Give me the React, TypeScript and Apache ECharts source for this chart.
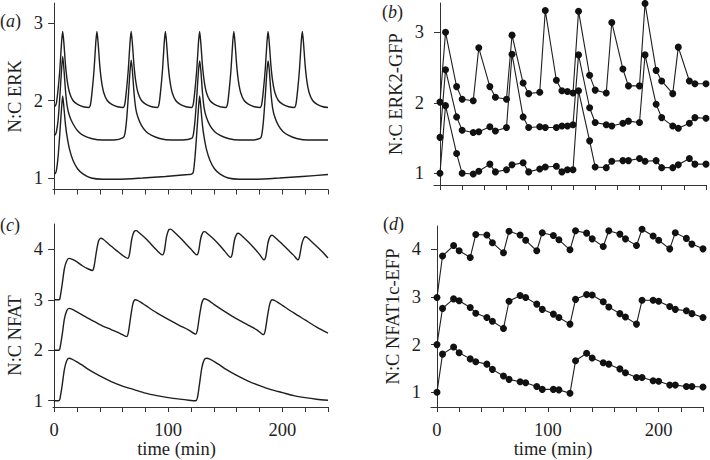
import React, { useEffect, useRef } from "react";
import * as echarts from "echarts";

// ---------- (a) simulated N:C ERK: [time (min), ratio] ----------
const erkSimHigh: number[][] = [
  [0, 1.92], [1, 1.93], [2, 1.97], [3.5, 2.15], [5, 2.4], [6.5, 2.75], [7.5, 2.89], [8.5, 2.75], [10, 2.45], [11.5, 2.25], [13.5, 2.1], [16.5, 2.0], [20.5, 1.95], [25.5, 1.92], [30.5, 1.91],
  [32, 1.96], [33.5, 2.15], [35, 2.4], [36.5, 2.75], [37.5, 2.89], [38.5, 2.75], [40, 2.45], [41.5, 2.25], [43.5, 2.1], [46.5, 2.0], [50.5, 1.95], [55.5, 1.92], [60.5, 1.91],
  [62, 1.96], [63.5, 2.15], [65, 2.4], [66.5, 2.75], [67.5, 2.89], [68.5, 2.75], [70, 2.45], [71.5, 2.25], [73.5, 2.1], [76.5, 2.0], [80.5, 1.95], [85.5, 1.92], [90.5, 1.91],
  [92, 1.96], [93.5, 2.15], [95, 2.4], [96.5, 2.75], [97.5, 2.89], [98.5, 2.75], [100, 2.45], [101.5, 2.25], [103.5, 2.1], [106.5, 2.0], [110.5, 1.95], [115.5, 1.92], [120.5, 1.91],
  [122, 1.96], [123.5, 2.15], [125, 2.4], [126.5, 2.75], [127.5, 2.89], [128.5, 2.75], [130, 2.45], [131.5, 2.25], [133.5, 2.1], [136.5, 2.0], [140.5, 1.95], [145.5, 1.92], [150.5, 1.91],
  [152, 1.96], [153.5, 2.15], [155, 2.4], [156.5, 2.75], [157.5, 2.89], [158.5, 2.75], [160, 2.45], [161.5, 2.25], [163.5, 2.1], [166.5, 2.0], [170.5, 1.95], [175.5, 1.92], [180.5, 1.91],
  [182, 1.96], [183.5, 2.15], [185, 2.4], [186.5, 2.75], [187.5, 2.89], [188.5, 2.75], [190, 2.45], [191.5, 2.25], [193.5, 2.1], [196.5, 2.0], [200.5, 1.95], [205.5, 1.92], [210.5, 1.91],
  [212, 1.96], [213.5, 2.15], [215, 2.4], [216.5, 2.75], [217.5, 2.89], [218.5, 2.75], [220, 2.45], [221.5, 2.25], [223.5, 2.1], [226.5, 2.0], [230.5, 1.95], [235.5, 1.92], [240, 1.91],
];
const erkSimMid: number[][] = [
  [0, 1.55], [1, 1.56], [2, 1.6], [3.5, 1.75], [5, 2.05], [6.5, 2.4], [7.5, 2.57], [8.5, 2.42], [10, 2.12], [11.5, 1.92], [13.5, 1.8], [16.5, 1.7], [20.5, 1.61], [25.5, 1.55], [32.5, 1.51], [42.5, 1.49], [52.5, 1.49], [60.5, 1.52],
  [62, 1.57], [63.5, 1.75], [65, 2.05], [66.5, 2.38], [67.5, 2.52], [68.5, 2.4], [70, 2.1], [71.5, 1.9], [73.5, 1.78], [76.5, 1.68], [80.5, 1.6], [85.5, 1.55], [92.5, 1.51], [102.5, 1.49], [112.5, 1.49], [120.5, 1.51],
  [122, 1.56], [123.5, 1.75], [125, 2.05], [126.5, 2.38], [127.5, 2.51], [128.5, 2.4], [130, 2.1], [131.5, 1.9], [133.5, 1.78], [136.5, 1.68], [140.5, 1.6], [145.5, 1.55], [152.5, 1.51], [162.5, 1.49], [172.5, 1.49], [180.5, 1.51],
  [182, 1.56], [183.5, 1.75], [185, 2.05], [186.5, 2.38], [187.5, 2.51], [188.5, 2.4], [190, 2.1], [191.5, 1.9], [193.5, 1.78], [196.5, 1.68], [200.5, 1.6], [205.5, 1.55], [212.5, 1.51], [222.5, 1.49], [232.5, 1.49], [240, 1.49],
];
const erkSimLow: number[][] = [
  [0, 1.05], [1, 1.06], [2, 1.1], [3.5, 1.28], [5, 1.58], [6.5, 1.9], [7.5, 2.06], [8.5, 1.92], [10, 1.68], [11.5, 1.52], [13.5, 1.37], [16.5, 1.23], [20.5, 1.12], [25.5, 1.05], [32.5, 1.0], [42.5, 0.985], [57.5, 0.985], [77.5, 1.0], [97.5, 1.02], [117.5, 1.045], [120.5, 1.05],
  [122, 1.08], [123.5, 1.28], [125, 1.58], [126.5, 1.9], [127.5, 2.06], [128.5, 1.92], [130, 1.68], [131.5, 1.52], [133.5, 1.37], [136.5, 1.23], [140.5, 1.12], [145.5, 1.05], [152.5, 1.0], [162.5, 0.985], [177.5, 0.985], [197.5, 1.0], [217.5, 1.02], [240, 1.045],
];

// ---------- (b) measured N:C ERK2-GFP ----------
const erkExpTimes = [0, 5, 15, 20, 30, 35, 45, 50, 60, 65, 75, 80, 90, 95, 105, 110, 115, 120, 125, 135, 140, 150, 155, 165, 170, 180, 185, 195, 200, 210, 215, 225, 230, 240];
const erkExpHigh = [2.01, 3.0, 2.23, 2.05, 2.03, 2.78, 2.23, 2.08, 2.05, 2.96, 2.28, 2.13, 2.15, 3.31, 2.32, 2.17, 2.16, 2.14, 3.3, 2.39, 2.18, 2.14, 3.14, 2.48, 2.24, 2.24, 3.41, 2.46, 2.31, 2.13, 2.79, 2.31, 2.27, 2.27];
const erkExpMid = [1.51, 2.47, 1.8, 1.61, 1.58, 1.59, 1.66, 1.6, 1.65, 2.69, 1.8, 1.65, 1.66, 1.65, 1.65, 1.67, 1.67, 1.69, 2.68, 1.93, 1.72, 1.69, 1.67, 1.71, 1.74, 1.72, 2.68, 1.98, 1.79, 1.67, 1.64, 1.71, 1.79, 1.78];
const erkExpLow = [1.0, 1.96, 1.28, 1.0, 0.99, 1.03, 1.13, 1.02, 1.05, 1.12, 1.15, 1.02, 1.06, 1.09, 1.1, 1.02, 1.05, 1.05, 2.17, 1.46, 1.09, 1.08, 1.17, 1.18, 1.18, 1.21, 1.17, 1.18, 1.08, 1.08, 1.12, 1.21, 1.13, 1.13];

// ---------- (c) simulated N:C NFAT ----------
const nfatSimHigh: number[][] = [
  [0, 3.0], [4, 3.0], [5, 3.02], [7, 3.3], [9, 3.62], [11, 3.77], [13, 3.82], [16, 3.8], [20, 3.75], [25, 3.67], [30, 3.61], [33.5, 3.58], [35, 3.66], [37, 3.95], [39, 4.17], [41, 4.22], [43, 4.2], [48, 4.1], [55, 3.97], [60, 3.88], [64.5, 3.82],
  [66, 3.9], [68, 4.2], [70, 4.35], [72, 4.37], [74, 4.34], [80, 4.22], [85, 4.1], [90, 3.98], [95, 3.89], [96.5, 3.96], [98.5, 4.25], [100.5, 4.39], [102, 4.4], [104, 4.37], [110, 4.24], [115, 4.12], [120, 4.0], [125, 3.89],
  [126.5, 3.95], [128.5, 4.22], [130.5, 4.34], [132, 4.35], [134, 4.32], [140, 4.2], [145, 4.08], [150, 3.95], [154.5, 3.84], [156, 3.9], [158, 4.18], [160, 4.3], [161.5, 4.32], [163.5, 4.29], [170, 4.15], [175, 4.03], [180, 3.9], [184, 3.79],
  [185.5, 3.86], [187.5, 4.14], [189.5, 4.26], [191, 4.28], [193, 4.25], [200, 4.1], [205, 3.99], [210, 3.88], [213.7, 3.79], [215, 3.85], [217, 4.1], [219, 4.23], [220.5, 4.25], [222.5, 4.22], [230, 4.06], [235, 3.95], [240, 3.83],
];
const nfatSimMid: number[][] = [
  [0, 2.0], [4, 2.0], [5, 2.03], [7, 2.3], [9, 2.62], [11, 2.78], [13, 2.83], [16, 2.81], [20, 2.76], [30, 2.63], [40, 2.51], [50, 2.41], [58, 2.33], [63.5, 2.27],
  [65, 2.35], [67, 2.65], [69, 2.92], [71, 3.0], [73, 2.99], [76, 2.95], [80, 2.89], [90, 2.74], [100, 2.61], [110, 2.49], [118, 2.4], [124, 2.32],
  [125.5, 2.4], [127.5, 2.7], [129.5, 2.94], [131.5, 3.02], [133.5, 3.01], [137, 2.96], [140, 2.91], [150, 2.76], [160, 2.62], [170, 2.5], [178, 2.4], [183.5, 2.31],
  [185, 2.39], [187, 2.68], [189, 2.92], [191, 3.0], [193, 2.99], [196, 2.95], [200, 2.89], [210, 2.74], [220, 2.6], [230, 2.46], [240, 2.34],
];
const nfatSimLow: number[][] = [
  [0, 1.0], [4, 1.0], [5, 1.03], [7, 1.3], [9, 1.62], [11, 1.79], [13, 1.84], [16, 1.82], [20, 1.77], [25, 1.7], [30, 1.62], [40, 1.49], [50, 1.38], [60, 1.29], [70, 1.22], [80, 1.15], [90, 1.1], [100, 1.06], [110, 1.03], [118, 1.01], [124, 1.0],
  [125.5, 1.05], [127.5, 1.35], [129.5, 1.66], [131.5, 1.81], [133.5, 1.84], [136, 1.83], [140, 1.78], [145, 1.71], [150, 1.63], [160, 1.5], [170, 1.39], [180, 1.3], [190, 1.22], [200, 1.16], [210, 1.1], [220, 1.06], [230, 1.03], [240, 1.01],
];

// ---------- (d) measured N:C NFAT1c-EFP ----------
const nfatExpTimes = [0, 5, 15, 20, 30, 35, 45, 50, 60, 65, 75, 80, 90, 95, 105, 110, 120, 125, 135, 140, 150, 155, 165, 170, 180, 185, 195, 200, 210, 215, 225, 230, 240];
const nfatExpHigh = [2.99, 3.86, 4.08, 3.97, 3.83, 4.31, 4.3, 4.14, 3.93, 4.38, 4.3, 4.19, 3.97, 4.35, 4.29, 4.2, 3.99, 4.39, 4.34, 4.22, 4.06, 4.39, 4.32, 4.22, 4.08, 4.42, 4.28, 4.19, 4.01, 4.35, 4.23, 4.11, 4.01];
const nfatExpMid = [2.0, 2.76, 2.96, 2.92, 2.78, 2.66, 2.57, 2.49, 2.34, 2.91, 3.03, 2.99, 2.85, 2.74, 2.64, 2.57, 2.43, 2.95, 3.05, 3.04, 2.9, 2.79, 2.65, 2.58, 2.43, 2.93, 2.93, 2.91, 2.8, 2.74, 2.71, 2.65, 2.57];
const nfatExpLow = [1.0, 1.8, 1.95, 1.83, 1.7, 1.64, 1.59, 1.48, 1.34, 1.27, 1.22, 1.2, 1.12, 1.06, 1.06, 1.05, 0.98, 1.66, 1.82, 1.72, 1.62, 1.59, 1.49, 1.41, 1.31, 1.31, 1.24, 1.23, 1.15, 1.15, 1.12, 1.12, 1.11];

// ---------- ticks ----------
const xTickValues = [0, 20, 40, 60, 80, 100, 120, 140, 160, 180, 200, 220, 240];
const xLabelValues = [0, 100, 200];
const erkYTicks = [1, 2, 3];
const nfatYTicks = [1, 2, 3, 4];
const panelLabels = ["a", "b", "c", "d"];

const FONT = "Liberation Serif";
const INK = "#1e1e1e";

function pair(times: number[], vals: number[]) {
  return times.map((t, i) => [t, vals[i]]);
}

export default function App() {
  const ref = useRef<HTMLDivElement>(null);
  useEffect(() => {
    if (!ref.current) return;
    const chart = echarts.init(ref.current, undefined, { renderer: "svg" });

    const axisLine = { show: true, lineStyle: { color: "#333", width: 1 } };
    const makeX = (gridIndex: number, min: number, labels: boolean) => ({
      type: "value",
      gridIndex,
      min,
      max: 240,
      axisLine,
      splitLine: { show: false },
      axisTick: { show: true, length: 5, customValues: xTickValues, lineStyle: { color: "#333" } },
      axisLabel: labels
        ? { show: true, customValues: xLabelValues, margin: 13, fontFamily: FONT, fontSize: 18.5, color: INK }
        : { show: false },
      name: labels ? "time (min)" : "",
      nameLocation: "middle",
      nameGap: 31,
      nameTextStyle: { fontFamily: FONT, fontSize: 18.5, color: INK, padding: [0, 28, 0, 0] },
    });
    const makeY = (gridIndex: number, min: number, max: number, ticks: number[], name: string, pad: number[]) => ({
      type: "value",
      gridIndex,
      min,
      max,
      axisLine,
      splitLine: { show: false },
      axisTick: { show: true, length: 6, customValues: ticks, lineStyle: { color: "#333" } },
      axisLabel: { show: true, customValues: ticks, margin: 10, fontFamily: FONT, fontSize: 18.5, color: INK },
      name,
      nameLocation: "middle",
      nameGap: 29,
      nameRotate: 90,
      nameTextStyle: { fontFamily: FONT, fontSize: 18.5, color: INK, padding: pad },
    });

    const simLine = (xi: number, data: number[][]) => ({
      type: "line",
      xAxisIndex: xi,
      yAxisIndex: xi,
      data,
      showSymbol: false,
      symbol: "none",
      smooth: 0.25,
      clip: false,
      lineStyle: { color: INK, width: 1.4 },
    });
    const expLine = (xi: number, data: number[][]) => ({
      type: "line",
      xAxisIndex: xi,
      yAxisIndex: xi,
      data,
      symbol: "circle",
      symbolSize: 7,
      clip: false,
      itemStyle: { color: "#111" },
      lineStyle: { color: INK, width: 1.1 },
    });

    const labelText = (letter: string, x: number, y: number) => ({
      type: "text",
      x,
      y,
      style: {
        text: `{p|(}{i|${letter}}{p|)}`,
        verticalAlign: "middle",
        rich: {
          p: { fontFamily: FONT, fontSize: 18, fill: INK },
          i: { fontFamily: FONT, fontSize: 18, fontStyle: "italic", fill: INK },
        },
      },
    });

    chart.setOption({
      animation: false,
      backgroundColor: "#ffffff",
      grid: [
        { left: 53, top: 3, width: 275, height: 186.5 },
        { left: 434, top: 3, width: 272, height: 182 },
        { left: 53, top: 224, width: 275, height: 183 },
        { left: 431, top: 226, width: 272, height: 181 },
      ],
      xAxis: [makeX(0, -1, false), makeX(1, -5.4, false), makeX(2, -1, true), makeX(3, -5.4, true)],
      yAxis: [
        makeY(0, 0.852, 3.258, erkYTicks, "N:C ERK", [0, 0, 0, 0]),
        makeY(1, 0.834, 3.416, erkYTicks, "N:C ERK2-GFP", [0, 0, 0, 0]),
        makeY(2, 0.875, 4.502, nfatYTicks, "N:C NFAT", [0, 40, 0, 0]),
        makeY(3, 0.69, 4.49, nfatYTicks, "N:C NFAT1c-EFP", [0, 0, 0, 0]),
      ],
      series: [
        simLine(0, erkSimHigh),
        simLine(0, erkSimMid),
        simLine(0, erkSimLow),
        expLine(1, pair(erkExpTimes, erkExpHigh)),
        expLine(1, pair(erkExpTimes, erkExpMid)),
        expLine(1, pair(erkExpTimes, erkExpLow)),
        simLine(2, nfatSimHigh),
        simLine(2, nfatSimMid),
        simLine(2, nfatSimLow),
        expLine(3, pair(nfatExpTimes, nfatExpHigh)),
        expLine(3, pair(nfatExpTimes, nfatExpMid)),
        expLine(3, pair(nfatExpTimes, nfatExpLow)),
      ],
      graphic: [
        labelText(panelLabels[0], 0, 21),
        labelText(panelLabels[1], 382, 12),
        labelText(panelLabels[2], 0, 225),
        labelText(panelLabels[3], 383, 224),
      ],
    });
    return () => chart.dispose();
  }, []);

  return (
    <div
      ref={ref}
      style={{ position: "absolute", left: 0, top: 0, width: 710, height: 460, background: "#fff" }}
    />
  );
}
